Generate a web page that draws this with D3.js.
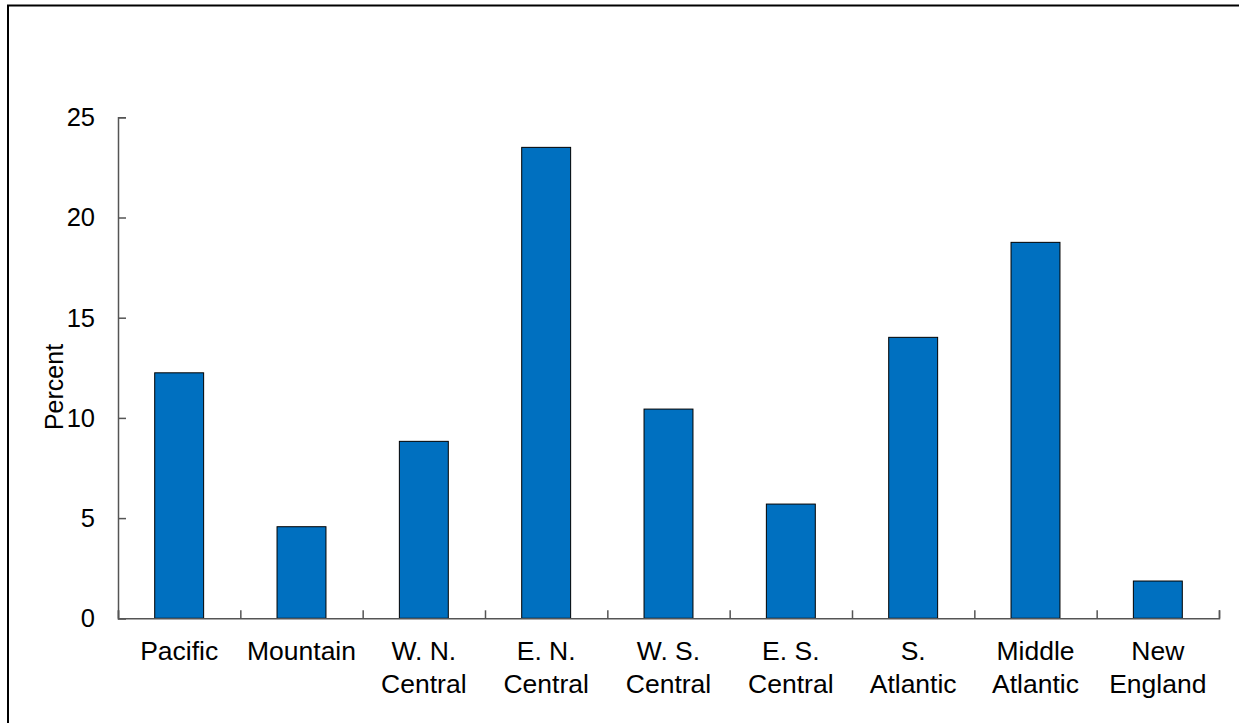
<!DOCTYPE html>
<html><head><meta charset="utf-8">
<script src="https://cdn.jsdelivr.net/npm/d3@7"></script>
<style>body{margin:0;background:#fff}svg{display:block}</style>
</head><body>
<svg id="c" width="1239" height="723"></svg>
<script>
const categories = [["Pacific"],["Mountain"],["W. N.","Central"],["E. N.","Central"],["W. S.","Central"],["E. S.","Central"],["S.","Atlantic"],["Middle","Atlantic"],["New","England"]];
const values = [12.25, 4.57, 8.83, 23.5, 10.44, 5.7, 14.02, 18.76, 1.86];
const yTicks = [0, 5, 10, 15, 20, 25];
const yLabel = "Percent";

const svg = d3.select("#c");
const font = "'Liberation Sans', Arial, sans-serif";
const m = {left:118, right:1219, top:117.3, bottom:618.3};

// outer frame
svg.append("rect").attr("x",8).attr("y",5.5).attr("width",1300).attr("height",800)
  .attr("fill","none").attr("stroke","#000").attr("stroke-width",2);

const keys = categories.map((d,i)=>i);
const x = d3.scaleBand().domain(keys).range([m.left, m.right]).paddingInner(0).paddingOuter(0);
const y = d3.scaleLinear().domain([0,25]).range([m.bottom, m.top]);
const bw = x.bandwidth()*0.4;

svg.append("g").selectAll("rect").data(values).join("rect")
  .attr("x",(d,i)=>x(i)+x.bandwidth()/2-bw/2)
  .attr("y",d=>y(d)).attr("width",bw).attr("height",d=>y(0)-y(d))
  .attr("fill","#0070C0").attr("stroke","#000").attr("stroke-width",1);

// y axis
const ya = svg.append("g").attr("transform",`translate(${m.left},0)`)
  .call(d3.axisRight(y).tickValues(yTicks).tickSize(8).tickFormat(""));
ya.select(".domain").attr("stroke","#555").attr("stroke-width",1.5);
ya.selectAll(".tick line").attr("stroke","#555").attr("stroke-width",1.5);
svg.append("g").selectAll("text").data(yTicks).join("text")
  .attr("x",m.left-23).attr("y",d=>y(d)).attr("dy","0.35em").attr("text-anchor","end")
  .attr("font-family",font).attr("font-size",25.5).attr("fill","#000").text(d=>d);

// x axis
const xEdge = d3.scaleLinear().domain([0,categories.length]).range([m.left,m.right]);
const xa = svg.append("g").attr("transform",`translate(0,${m.bottom})`)
  .call(d3.axisTop(xEdge).tickValues(d3.range(categories.length+1)).tickSize(8).tickFormat(""));
xa.select(".domain").attr("stroke","#555").attr("stroke-width",1.5);
xa.selectAll(".tick line").attr("stroke","#555").attr("stroke-width",1.5);

const lab = svg.append("g").selectAll("text").data(categories).join("text")
  .attr("text-anchor","middle").attr("font-family",font).attr("font-size",26.5).attr("fill","#000");
lab.each(function(d,i){
  const t = d3.select(this);
  d.forEach((s,j)=>t.append("tspan").attr("x",x(i)+x.bandwidth()/2).attr("y",660+j*32.5).text(s));
});

svg.append("text").attr("transform","translate(62.5,387) rotate(-90)")
  .attr("text-anchor","middle").attr("font-family",font).attr("font-size",25).attr("fill","#000").text(yLabel);
</script>
</body></html>
